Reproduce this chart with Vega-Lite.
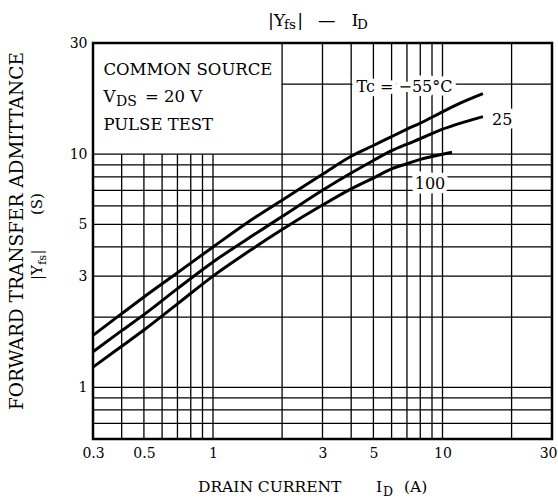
{
  "$schema": "https://vega.github.io/schema/vega-lite/v6.json",
  "width": 459,
  "height": 396,
  "autosize": {"type": "none"},
  "padding": {"left": 93, "top": 43, "right": 6, "bottom": 60},
  "background": "white",
  "config": {"view": {"stroke": null}, "text": {"font": "DejaVu Serif", "color": "black"}},
  "datasets": {
    "vgrid": [
      {"x": 0.4, "y1": 0.6, "y2": 10}, {"x": 0.5, "y1": 0.6, "y2": 10}, {"x": 0.6, "y1": 0.6, "y2": 10},
      {"x": 0.7, "y1": 0.6, "y2": 10}, {"x": 0.8, "y1": 0.6, "y2": 10}, {"x": 0.9, "y1": 0.6, "y2": 10},
      {"x": 1, "y1": 0.6, "y2": 10},
      {"x": 2, "y1": 0.6, "y2": 30}, {"x": 3, "y1": 0.6, "y2": 30}, {"x": 4, "y1": 0.6, "y2": 30},
      {"x": 5, "y1": 0.6, "y2": 30}, {"x": 6, "y1": 0.6, "y2": 30}, {"x": 7, "y1": 0.6, "y2": 30},
      {"x": 8, "y1": 0.6, "y2": 30}, {"x": 9, "y1": 0.6, "y2": 30}, {"x": 10, "y1": 0.6, "y2": 30},
      {"x": 20, "y1": 0.6, "y2": 30}
    ],
    "hgrid": [
      {"y": 0.7, "x1": 0.3, "x2": 30}, {"y": 0.8, "x1": 0.3, "x2": 30}, {"y": 0.9, "x1": 0.3, "x2": 30},
      {"y": 1, "x1": 0.3, "x2": 30}, {"y": 2, "x1": 0.3, "x2": 30}, {"y": 3, "x1": 0.3, "x2": 30},
      {"y": 4, "x1": 0.3, "x2": 30}, {"y": 5, "x1": 0.3, "x2": 30}, {"y": 6, "x1": 0.3, "x2": 30},
      {"y": 7, "x1": 0.3, "x2": 30}, {"y": 8, "x1": 0.3, "x2": 30}, {"y": 9, "x1": 0.3, "x2": 30},
      {"y": 10, "x1": 0.3, "x2": 30}, {"y": 20, "x1": 2, "x2": 30}
    ],
    "frame": [{"x": 0.3, "x2": 30, "y": 0.6, "y2": 30}],
    "curves": [
      {"Tc": "-55", "I": 0.3, "Y": 1.67}, {"Tc": "-55", "I": 0.4, "Y": 2.07}, {"Tc": "-55", "I": 0.5, "Y": 2.44},
      {"Tc": "-55", "I": 0.7, "Y": 3.1}, {"Tc": "-55", "I": 1, "Y": 4.0}, {"Tc": "-55", "I": 1.5, "Y": 5.3},
      {"Tc": "-55", "I": 2, "Y": 6.35}, {"Tc": "-55", "I": 3, "Y": 8.2}, {"Tc": "-55", "I": 4, "Y": 9.8},
      {"Tc": "-55", "I": 5, "Y": 10.9}, {"Tc": "-55", "I": 6, "Y": 11.9}, {"Tc": "-55", "I": 7, "Y": 12.8},
      {"Tc": "-55", "I": 8, "Y": 13.6}, {"Tc": "-55", "I": 10, "Y": 15.2}, {"Tc": "-55", "I": 12, "Y": 16.6},
      {"Tc": "-55", "I": 15, "Y": 18.2},
      {"Tc": "25", "I": 0.3, "Y": 1.42}, {"Tc": "25", "I": 0.4, "Y": 1.75}, {"Tc": "25", "I": 0.5, "Y": 2.05},
      {"Tc": "25", "I": 0.7, "Y": 2.65}, {"Tc": "25", "I": 1, "Y": 3.45}, {"Tc": "25", "I": 1.5, "Y": 4.5},
      {"Tc": "25", "I": 2, "Y": 5.4}, {"Tc": "25", "I": 3, "Y": 7.0}, {"Tc": "25", "I": 4, "Y": 8.3},
      {"Tc": "25", "I": 5, "Y": 9.4}, {"Tc": "25", "I": 6, "Y": 10.35}, {"Tc": "25", "I": 7, "Y": 11.05},
      {"Tc": "25", "I": 8, "Y": 11.65}, {"Tc": "25", "I": 10, "Y": 12.8}, {"Tc": "25", "I": 12, "Y": 13.6},
      {"Tc": "25", "I": 15, "Y": 14.5},
      {"Tc": "100", "I": 0.3, "Y": 1.22}, {"Tc": "100", "I": 0.4, "Y": 1.5}, {"Tc": "100", "I": 0.5, "Y": 1.76},
      {"Tc": "100", "I": 0.7, "Y": 2.28}, {"Tc": "100", "I": 1, "Y": 3.0}, {"Tc": "100", "I": 1.5, "Y": 3.95},
      {"Tc": "100", "I": 2, "Y": 4.75}, {"Tc": "100", "I": 3, "Y": 6.05}, {"Tc": "100", "I": 4, "Y": 7.1},
      {"Tc": "100", "I": 5, "Y": 7.9}, {"Tc": "100", "I": 6, "Y": 8.65}, {"Tc": "100", "I": 7, "Y": 9.1},
      {"Tc": "100", "I": 8, "Y": 9.5}, {"Tc": "100", "I": 10, "Y": 10.0}, {"Tc": "100", "I": 11, "Y": 10.2}
    ],
    "curveLabels": [
      {"t": "Tc = −55°C", "x": 6.83, "y": 18.5},
      {"t": "25", "x": 18.2, "y": 13.4},
      {"t": "100", "x": 8.82, "y": 7.09}
    ],
    "titleMain": [
      {"t": "|Y", "x": 1.736, "y": 35.5}, {"t": "|", "x": 2.33, "y": 35.5},
      {"t": "—", "x": 2.868, "y": 35.5}, {"t": "I", "x": 4.014, "y": 35.5}
    ],
    "titleSub": [{"t": "fs", "x": 2.039, "y": 35.5}, {"t": "D", "x": 4.24, "y": 35.5}],
    "boxMain": [
      {"t": "COMMON SOURCE", "x": 0.333, "y": 21.9}, {"t": "V", "x": 0.333, "y": 16.8},
      {"t": "= 20 V", "x": 0.5056, "y": 16.8}, {"t": "PULSE TEST", "x": 0.333, "y": 12.7}
    ],
    "boxSub": [{"t": "DS", "x": 0.378, "y": 16.8}],
    "xTitleMain": [
      {"t": "DRAIN CURRENT", "x": 0.86, "y": 0.355}, {"t": "I", "x": 5.13, "y": 0.355},
      {"t": "(A)", "x": 6.8, "y": 0.355}
    ],
    "xTitleSub": [{"t": "D", "x": 5.5, "y": 0.355}],
    "yTitle1": [{"t": "FORWARD TRANSFER ADMITTANCE", "x": 0.1487, "y": 4.68}],
    "yTitle2Main": [
      {"t": "|Y", "x": 0.1799, "y": 2.884}, {"t": "|", "x": 0.1799, "y": 3.714},
      {"t": "(S)", "x": 0.1799, "y": 5.48}
    ],
    "yTitle2Sub": [{"t": "fs", "x": 0.1799, "y": 3.348}]
  },
  "layer": [
    {
      "data": {"name": "vgrid"},
      "mark": {"type": "rule", "color": "black", "strokeWidth": 1.3},
      "encoding": {
        "x": {"field": "x", "type": "quantitative", "title": null, "scale": {"type": "log", "domain": [0.3, 30], "nice": false},
          "axis": {"values": [0.3, 0.5, 1, 3, 5, 10, 30], "format": "~g", "domain": false, "ticks": false, "grid": false,
            "labelFont": "DejaVu Serif", "labelFontSize": 14, "labelColor": "black", "labelPadding": 7, "labelOverlap": false, "labelFlush": false,
            "labelAlign": {"condition": {"test": "datum.value == 30", "value": "right"}, "value": "center"},
            "labelOffset": {"condition": {"test": "datum.value == 30", "value": 5}, "value": 0}}},
        "y": {"field": "y1", "type": "quantitative", "title": null, "scale": {"type": "log", "domain": [0.6, 30], "nice": false},
          "axis": {"values": [1, 3, 5, 10, 30], "format": "~g", "domain": false, "ticks": false, "grid": false,
            "labelFont": "DejaVu Serif", "labelFontSize": 14, "labelColor": "black", "labelPadding": 6, "labelOverlap": false, "labelFlush": false}},
        "y2": {"field": "y2"}
      }
    },
    {
      "data": {"name": "hgrid"},
      "mark": {"type": "rule", "color": "black", "strokeWidth": 1.3},
      "encoding": {
        "y": {"field": "y", "type": "quantitative", "title": null},
        "x": {"field": "x1", "type": "quantitative", "title": null},
        "x2": {"field": "x2"}
      }
    },
    {
      "data": {"name": "curveLabels"},
      "mark": {"type": "text", "align": "center", "baseline": "alphabetic", "fontSize": 16, "fill": "white", "stroke": "white", "strokeWidth": 9, "strokeJoin": "round"},
      "encoding": {
        "x": {"field": "x", "type": "quantitative", "title": null},
        "y": {"field": "y", "type": "quantitative", "title": null},
        "text": {"field": "t"}
      }
    },
    {
      "data": {"name": "frame"},
      "mark": {"type": "rect", "fillOpacity": 0, "stroke": "black", "strokeWidth": 2.5},
      "encoding": {
        "x": {"field": "x", "type": "quantitative", "title": null},
        "x2": {"field": "x2"},
        "y": {"field": "y", "type": "quantitative", "title": null},
        "y2": {"field": "y2"}
      }
    },
    {
      "data": {"name": "curves"},
      "mark": {"type": "line", "color": "black", "strokeWidth": 3, "interpolate": "monotone"},
      "encoding": {
        "x": {"field": "I", "type": "quantitative", "title": null},
        "y": {"field": "Y", "type": "quantitative", "title": null},
        "detail": {"field": "Tc"}
      }
    },
    {
      "data": {"name": "curveLabels"},
      "mark": {"type": "text", "align": "center", "baseline": "alphabetic", "fontSize": 16},
      "encoding": {
        "x": {"field": "x", "type": "quantitative", "title": null},
        "y": {"field": "y", "type": "quantitative", "title": null},
        "text": {"field": "t"}
      }
    },
    {
      "data": {"name": "titleMain"},
      "mark": {"type": "text", "align": "left", "baseline": "alphabetic", "fontSize": 17.5},
      "encoding": {
        "x": {"field": "x", "type": "quantitative", "title": null},
        "y": {"field": "y", "type": "quantitative", "title": null},
        "text": {"field": "t"}
      }
    },
    {
      "data": {"name": "titleSub"},
      "mark": {"type": "text", "align": "left", "baseline": "alphabetic", "fontSize": 13.5, "dy": 3.5},
      "encoding": {
        "x": {"field": "x", "type": "quantitative", "title": null},
        "y": {"field": "y", "type": "quantitative", "title": null},
        "text": {"field": "t"}
      }
    },
    {
      "data": {"name": "boxMain"},
      "mark": {"type": "text", "align": "left", "baseline": "alphabetic", "fontSize": 16.5},
      "encoding": {
        "x": {"field": "x", "type": "quantitative", "title": null},
        "y": {"field": "y", "type": "quantitative", "title": null},
        "text": {"field": "t"}
      }
    },
    {
      "data": {"name": "boxSub"},
      "mark": {"type": "text", "align": "left", "baseline": "alphabetic", "fontSize": 14, "dy": 4.3},
      "encoding": {
        "x": {"field": "x", "type": "quantitative", "title": null},
        "y": {"field": "y", "type": "quantitative", "title": null},
        "text": {"field": "t"}
      }
    },
    {
      "data": {"name": "xTitleMain"},
      "mark": {"type": "text", "align": "left", "baseline": "alphabetic", "fontSize": 15.5},
      "encoding": {
        "x": {"field": "x", "type": "quantitative", "title": null},
        "y": {"field": "y", "type": "quantitative", "title": null},
        "text": {"field": "t"}
      }
    },
    {
      "data": {"name": "xTitleSub"},
      "mark": {"type": "text", "align": "left", "baseline": "alphabetic", "fontSize": 12.5, "dy": 4},
      "encoding": {
        "x": {"field": "x", "type": "quantitative", "title": null},
        "y": {"field": "y", "type": "quantitative", "title": null},
        "text": {"field": "t"}
      }
    },
    {
      "data": {"name": "yTitle1"},
      "mark": {"type": "text", "align": "center", "baseline": "alphabetic", "fontSize": 18.5, "angle": 270},
      "encoding": {
        "x": {"field": "x", "type": "quantitative", "title": null},
        "y": {"field": "y", "type": "quantitative", "title": null},
        "text": {"field": "t"}
      }
    },
    {
      "data": {"name": "yTitle2Main"},
      "mark": {"type": "text", "align": "left", "baseline": "alphabetic", "fontSize": 15, "angle": 270},
      "encoding": {
        "x": {"field": "x", "type": "quantitative", "title": null},
        "y": {"field": "y", "type": "quantitative", "title": null},
        "text": {"field": "t"}
      }
    },
    {
      "data": {"name": "yTitle2Sub"},
      "mark": {"type": "text", "align": "left", "baseline": "alphabetic", "fontSize": 11.5, "angle": 270, "dy": 3.5},
      "encoding": {
        "x": {"field": "x", "type": "quantitative", "title": null},
        "y": {"field": "y", "type": "quantitative", "title": null},
        "text": {"field": "t"}
      }
    }
  ]
}
